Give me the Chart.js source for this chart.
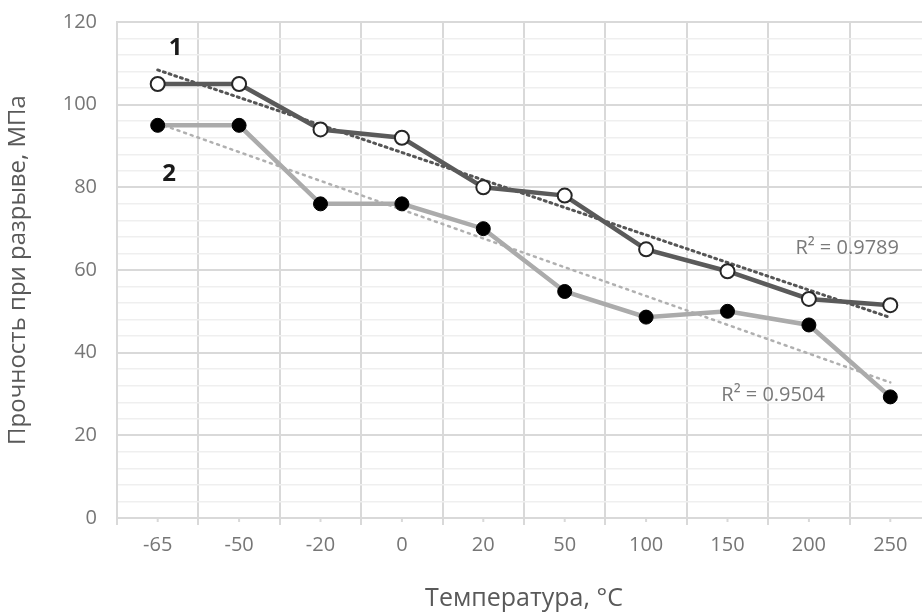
<!DOCTYPE html>
<html>
<head>
<meta charset="utf-8">
<script src="https://cdn.jsdelivr.net/npm/chart.js@4.4.0/dist/chart.umd.min.js"></script>
<style>
  html, body { margin: 0; padding: 0; background: #fff; overflow: hidden; }
  #wrap { width: 940px; height: 614px; }
</style>
</head>
<body>
<div id="wrap"><canvas id="chart" width="940" height="614"></canvas></div>
<script>
const temperatures = ['-65', '-50', '-20', '0', '20', '50', '100', '150', '200', '250'];
const strength1 = [105, 105, 94, 92, 80, 78, 65, 59.7, 53, 51.5];
const strength2 = [95, 95, 76, 76, 70, 54.8, 48.6, 50, 46.7, 29.3];
// trend line ends (first and last category)
const trend1 = [108.4, null, null, null, null, null, null, null, null, 48.5];
const trend2 = [95.5, null, null, null, null, null, null, null, null, 32.8];

// text notes: [text, category position, value, font, colour]
const notes = [
  ['1', 0.22, 113.7, 'bold 24px "Open Sans"', '#1a1a1a'],
  ['2', 0.14, 83.2, 'bold 24px "Open Sans"', '#1a1a1a'],
  ['R² = 0.9789', 8.47, 65.3, '20px "Open Sans"', '#7a7a7a'],
  ['R² = 0.9504', 7.56, 29.8, '20px "Open Sans"', '#7a7a7a']
];

const notesPlugin = {
  id: 'notes',
  afterDatasetsDraw(chart) {
    const ctx = chart.ctx;
    const x = chart.scales.x;
    const y = chart.scales.y;
    ctx.save();
    // small tick marks at category centres
    ctx.strokeStyle = '#d9d9d9';
    ctx.lineWidth = 2;
    temperatures.forEach((t, i) => {
      const px = x.getPixelForValue(i);
      ctx.beginPath();
      ctx.moveTo(px, y.bottom);
      ctx.lineTo(px, y.bottom + 4);
      ctx.stroke();
    });
    ctx.textAlign = 'center';
    ctx.textBaseline = 'middle';
    notes.forEach(([text, cat, val, font, color]) => {
      ctx.font = font;
      ctx.fillStyle = color;
      ctx.fillText(text, x.getPixelForValue(cat), y.getPixelForValue(val));
    });
    ctx.restore();
  }
};

new Chart(document.getElementById('chart'), {
  type: 'line',
  data: {
    labels: temperatures,
    datasets: [{
      data: trend1,
      spanGaps: true,
      borderColor: '#555555',
      borderWidth: 3,
      borderDash: [2, 4],
      borderCapStyle: 'round',
      pointRadius: 0,
      fill: false,
      order: 3
    }, {
      data: trend2,
      spanGaps: true,
      borderColor: '#b0b0b0',
      borderWidth: 2.5,
      borderDash: [2, 5],
      borderCapStyle: 'round',
      pointRadius: 0,
      fill: false,
      order: 4
    }, {
      data: strength1,
      borderColor: '#5a5a5a',
      borderWidth: 4.5,
      pointRadius: 7,
      pointBackgroundColor: '#ffffff',
      pointBorderColor: '#262626',
      pointBorderWidth: 2,
      lineTension: 0,
      fill: false,
      order: 1
    }, {
      data: strength2,
      borderColor: '#ababab',
      borderWidth: 4.5,
      pointRadius: 7,
      pointBackgroundColor: '#000000',
      pointBorderColor: '#000000',
      pointBorderWidth: 1,
      lineTension: 0,
      fill: false,
      order: 2
    }]
  },
  options: {
    responsive: false,
    animation: false,
    layout: { padding: { top: 22, right: 0, left: 0, bottom: 0 } },
    plugins: { legend: { display: false }, tooltip: { enabled: false } },
    scales: {
      x: {
        offset: true,
        grid: {
          offset: true,
          color: '#d9d9d9',
          lineWidth: 2,
          tickLength: 7,
          drawTicks: true
        },
        border: { color: '#d9d9d9', width: 2 },
        ticks: {
          color: '#767676',
          font: { family: 'Open Sans', size: 20 },
          padding: 8,
          maxRotation: 0
        },
        title: {
          display: true,
          text: 'Температура, °C',
          color: '#595959',
          font: { family: 'Open Sans', size: 25 },
          padding: { top: 16, bottom: 0 }
        },
        afterFit(scale) { scale.height = 96; }
      },
      y: {
        min: 0,
        max: 120,
        ticks: {
          stepSize: 4,
          autoSkip: false,
          color: '#767676',
          font: { family: 'Open Sans', size: 20 },
          padding: 20,
          callback: (v) => (v % 20 === 0 ? v : '')
        },
        grid: {
          color: (c) => (c.tick && c.tick.value % 20 === 0 ? '#d9d9d9' : '#efefef'),
          lineWidth: (c) => (c.tick && c.tick.value % 20 === 0 ? 2 : 1.5),
          drawTicks: false
        },
        border: { color: '#d9d9d9', width: 2 },
        title: {
          display: true,
          text: 'Прочность при разрыве, МПа',
          color: '#595959',
          font: { family: 'Open Sans', size: 24 },
          padding: { bottom: 6 }
        },
        afterFit(scale) {
          scale.width = 117;
          scale.paddingTop = 0;
          scale.paddingBottom = 0;
        }
      }
    }
  },
  plugins: [notesPlugin]
});
</script>
</body>
</html>
